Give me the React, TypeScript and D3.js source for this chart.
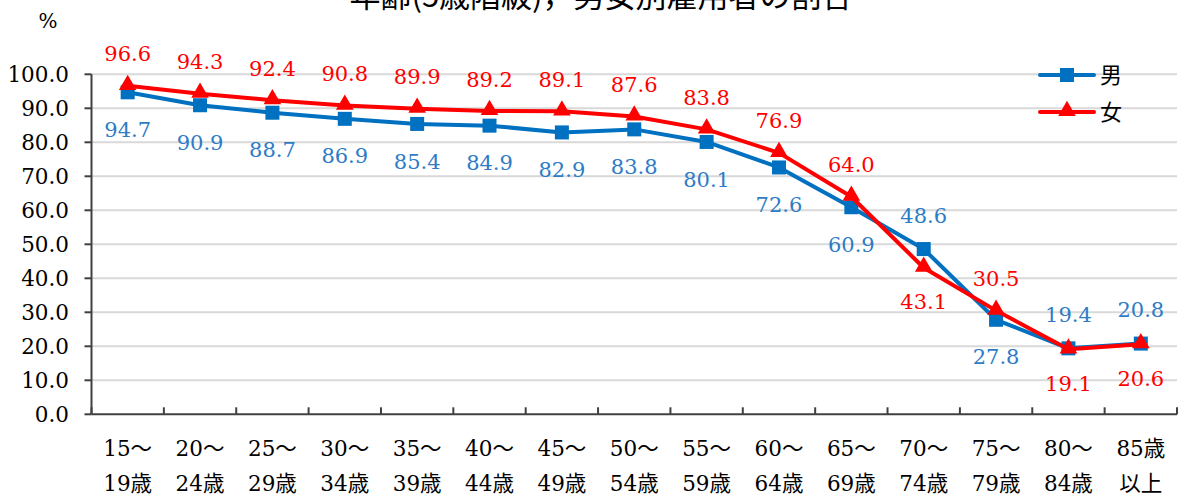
import React from "react";
import * as d3 from "d3";

const categoriesTop = ["15～", "20～", "25～", "30～", "35～", "40～", "45～", "50～", "55～", "60～", "65～", "70～", "75～", "80～", "85歳"];
const categoriesBottom = ["19歳", "24歳", "29歳", "34歳", "39歳", "44歳", "49歳", "54歳", "59歳", "64歳", "69歳", "74歳", "79歳", "84歳", "以上"];
const maleValues = [94.7, 90.9, 88.7, 86.9, 85.4, 84.9, 82.9, 83.8, 80.1, 72.6, 60.9, 48.6, 27.8, 19.4, 20.8];
const femaleValues = [96.6, 94.3, 92.4, 90.8, 89.9, 89.2, 89.1, 87.6, 83.8, 76.9, 64.0, 43.1, 30.5, 19.1, 20.6];
// label placement: "a" = above, "b" = below
const maleLabelPos = ["b", "b", "b", "b", "b", "b", "b", "b", "b", "b", "b", "a", "b", "a", "a"];
const femaleLabelPos = ["a", "a", "a", "a", "a", "a", "a", "a", "a", "a", "a", "b", "a", "b", "b"];
const yTicks = [0, 10, 20, 30, 40, 50, 60, 70, 80, 90, 100];
const seriesNames = ["男", "女"];
const title = "年齢(5歳階級)，男女別雇用者の割合";

const W = 1182;
const H = 498;
const left = 91.5;
const right = 1177;
const top = 74.3;
const bottom = 414.3;

const MALE = "#0070C0";
const FEMALE = "#FF0000";
const MALE_TEXT = "#2E7CC6";
const FONT = "'DejaVu Serif', 'Noto Sans CJK JP', serif";
const CJK = "'Noto Sans CJK JP', sans-serif";

export default function App() {
  const idx = categoriesTop.map((_, i) => String(i));
  const x = d3.scaleBand<string>().domain(idx).range([left, right]).padding(0);
  const y = d3.scaleLinear().domain([0, 100]).range([bottom, top]);
  const cx = (i: number) => (x(String(i)) as number) + x.bandwidth() / 2;

  const line = d3
    .line<number>()
    .x((_, i) => cx(i))
    .y((d) => y(d));

  const tri = d3.symbol().type(d3.symbolTriangle).size(135)();

  const boundaries = d3.range(categoriesTop.length + 1).map((i) => left + i * x.bandwidth());
  const serif = { fontFamily: FONT };
  const sans = { fontFamily: CJK };

  return (
    <div style={{ position: "absolute", left: 0, top: 0 }}>
      <svg width={W} height={H} style={{ display: "block", background: "#fff" }}>
        <text x={601} y={7} textAnchor="middle" fontSize={31} style={sans} fill="#000">
          {title}
        </text>
        <text x={48} y={28} textAnchor="middle" fontSize={20} style={serif} fill="#000">
          %
        </text>
        {/* gridlines */}
        {yTicks.filter((t) => t > 0).map((t) => (
          <line key={"g" + t} x1={left} x2={right} y1={y(t)} y2={y(t)} stroke="#D9D9D9" strokeWidth={2} />
        ))}
        {/* y axis */}
        <line x1={left} x2={left} y1={top} y2={bottom} stroke="#404040" strokeWidth={2} />
        {yTicks.map((t) => (
          <g key={"t" + t}>
            <line x1={left - 7} x2={left} y1={y(t)} y2={y(t)} stroke="#404040" strokeWidth={2} />
            <text x={69} y={y(t)} dy="0.36em" textAnchor="end" fontSize={21.5} style={serif} fill="#000">
              {t.toFixed(1)}
            </text>
          </g>
        ))}
        {/* x axis */}
        <line x1={left} x2={right} y1={bottom} y2={bottom} stroke="#404040" strokeWidth={2} />
        {boundaries.map((b, i) => (
          <line key={"xt" + i} x1={b} x2={b} y1={bottom} y2={bottom - 7} stroke="#404040" strokeWidth={2} />
        ))}
        {categoriesTop.map((c, i) => (
          <g key={"c" + i}>
            <text x={cx(i)} y={448} dy="0.36em" textAnchor="middle" fontSize={21.5} style={serif} fill="#000">
              {c}
            </text>
            <text x={cx(i)} y={483} dy="0.36em" textAnchor="middle" fontSize={21.5} style={serif} fill="#000">
              {categoriesBottom[i]}
            </text>
          </g>
        ))}
        {/* male series */}
        <path d={line(maleValues) as string} fill="none" stroke={MALE} strokeWidth={4} strokeLinejoin="round" />
        {maleValues.map((v, i) => (
          <rect key={"m" + i} x={cx(i) - 7} y={y(v) - 7} width={14} height={14} fill={MALE} />
        ))}
        {/* female series */}
        <path d={line(femaleValues) as string} fill="none" stroke={FEMALE} strokeWidth={4} strokeLinejoin="round" />
        {femaleValues.map((v, i) => (
          <path key={"f" + i} d={tri as string} transform={`translate(${cx(i)},${y(v) - 1})`} fill={FEMALE} />
        ))}
        {/* labels */}
        {maleValues.map((v, i) => (
          <text
            key={"ml" + i}
            x={cx(i)}
            y={y(v) + (maleLabelPos[i] === "a" ? -34 : 37)}
            dy="0.36em"
            textAnchor="middle"
            fontSize={21}
            style={serif}
            fill={MALE_TEXT}
          >
            {v.toFixed(1)}
          </text>
        ))}
        {femaleValues.map((v, i) => (
          <text
            key={"fl" + i}
            x={cx(i)}
            y={y(v) + (femaleLabelPos[i] === "a" ? -32 : 34)}
            dy="0.36em"
            textAnchor="middle"
            fontSize={21}
            style={serif}
            fill={FEMALE}
          >
            {v.toFixed(1)}
          </text>
        ))}
        {/* legend */}
        <g transform="translate(1040,75)">
          <line x1={0} x2={54} y1={0} y2={0} stroke={MALE} strokeWidth={4} strokeLinecap="round" />
          <rect x={20} y={-7} width={14} height={14} fill={MALE} />
          <text x={60} y={0} dy="0.36em" fontSize={22} style={sans} fill="#000">
            {seriesNames[0]}
          </text>
        </g>
        <g transform="translate(1040,112)">
          <line x1={0} x2={54} y1={0} y2={0} stroke={FEMALE} strokeWidth={4} strokeLinecap="round" />
          <path d={tri as string} transform="translate(27,-1)" fill={FEMALE} />
          <text x={60} y={0} dy="0.36em" fontSize={22} style={sans} fill="#000">
            {seriesNames[1]}
          </text>
        </g>
      </svg>
    </div>
  );
}
